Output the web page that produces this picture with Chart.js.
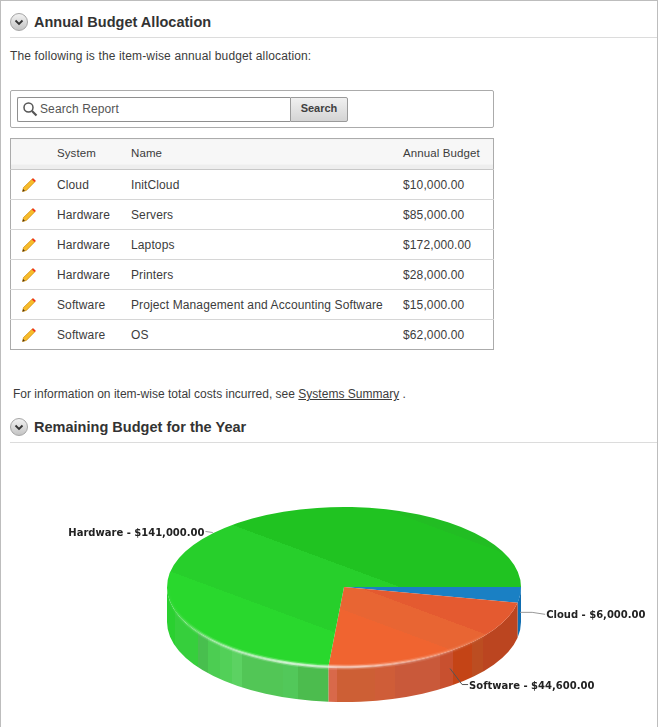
<!DOCTYPE html>
<html>
<head>
<meta charset="utf-8">
<title>Annual Budget Allocation</title>
<script src="https://cdn.jsdelivr.net/npm/chart.js@4"></script>
<style>
html, body { margin: 0; padding: 0; background: #fff; }
body { width: 658px; height: 727px; position: relative; overflow: hidden; font-family: "Liberation Sans", Arial, sans-serif; font-size: 12px; color: #3c3c3c; }
.frame { position: absolute; left: 0; top: 0; width: 656px; height: 727px; border: 1px solid #bdbdbd; border-bottom: 0; }
.abs { position: absolute; white-space: nowrap; }
h2 { position: absolute; margin: 0; left: 34px; font-size: 14.5px; line-height: 18px; font-weight: bold; color: #333; letter-spacing: 0.02px; white-space: nowrap; }
.rule { position: absolute; left: 10px; right: 1px; height: 1px; background: #dcdcdc; }
.toggle { position: absolute; left: 10px; width: 16px; height: 16px; border: 1px solid #a5a5a5; border-radius: 50%; background: linear-gradient(#f2f2f2, #c4c4c4); }
.para { letter-spacing: 0.14px; line-height: 14px; }
.para a { color: #3c3c3c; text-decoration: underline; }
.searchbar { position: absolute; left: 10px; top: 90px; width: 482px; height: 36px; border: 1px solid #ababab; border-radius: 2px; }
.input { position: absolute; left: 17px; top: 97px; width: 272px; height: 23px; border: 1px solid #8f8f8f; border-right: 0; border-radius: 2px 0 0 2px; }
.input span { position: absolute; left: 22px; top: 4px; color: #555; letter-spacing: 0.12px; line-height: 14px; }
.button { position: absolute; left: 290px; top: 97px; width: 56px; height: 23px; border: 1px solid #9a9a9a; border-radius: 0 2px 2px 0; background: linear-gradient(#f0f0f0, #d4d4d4); font-weight: bold; font-size: 11px; color: #404040; text-align: center; line-height: 21px; }
table { position: absolute; left: 10px; top: 138px; width: 484px; border-collapse: collapse; table-layout: fixed; border: 1px solid #ababab; }
th { height: 31px; padding: 0 0 3px 0; box-sizing: border-box; font-weight: normal; font-size: 11.5px; text-align: left; letter-spacing: 0.1px; background: linear-gradient(#f7f7f7 0, #f7f7f7 82%, #eeeeee 82%, #eeeeee 100%); border-bottom: 1px solid #c8c8c8; }
td { height: 30px; padding: 0; box-sizing: border-box; font-size: 12px; letter-spacing: 0.12px; border-top: 1px solid #d6d6d6; white-space: nowrap; }
tbody tr:first-child td { border-top: 0; }
td svg { display: block; margin-left: 10px; }
canvas { position: absolute; left: 0; top: 445px; }
</style>
</head>
<body>
<div class="frame"></div>

<div class="toggle" style="top:13px"><svg width="16" height="16"><path d="M4.5 6.5 L8 10 L11.5 6.5" fill="none" stroke="#333" stroke-width="1.8"/></svg></div>
<h2 style="top:13px">Annual Budget Allocation</h2>
<div class="rule" style="top:37px"></div>
<div class="abs para" style="left:10px;top:49px">The following is the item-wise annual budget allocation:</div>

<div class="searchbar"></div>
<div class="input">
  <svg style="position:absolute;left:4px;top:3px" width="16" height="16"><circle cx="6.5" cy="6.5" r="4.5" fill="none" stroke="#555" stroke-width="1.5"/><path d="M10 10 L14.5 14.5" stroke="#555" stroke-width="2.2"/></svg>
  <span>Search Report</span>
</div>
<div class="button">Search</div>

<table>
  <colgroup><col style="width:46.5px"><col style="width:74px"><col style="width:272px"><col></colgroup>
  <thead><tr id="headRow"></tr></thead>
  <tbody id="rows"></tbody>
</table>

<div class="abs para" style="left:13px;top:387px;letter-spacing:0.01px">For information on item-wise total costs incurred, see <a>Systems Summary</a> .</div>

<div class="toggle" style="top:418px"><svg width="16" height="16"><path d="M4.5 6.5 L8 10 L11.5 6.5" fill="none" stroke="#333" stroke-width="1.8"/></svg></div>
<h2 style="top:418px">Remaining Budget for the Year</h2>
<div class="rule" style="top:442px"></div>

<canvas id="budgetChart" width="658" height="282"></canvas>

<script>
// 表格数据
const tableHeaders = ['', 'System', 'Name', 'Annual Budget'];
const tableSystems = ['Cloud', 'Hardware', 'Hardware', 'Hardware', 'Software', 'Software'];
const tableNames = ['InitCloud', 'Servers', 'Laptops', 'Printers', 'Project Management and Accounting Software', 'OS'];
const tableBudgets = [10000, 85000, 172000, 28000, 15000, 62000];

// 饼图数据
const categories = ['Cloud', 'Software', 'Hardware'];
const remaining = [6000, 44600, 141000];

const money = v => '$' + v.toLocaleString('en-US', { minimumFractionDigits: 2, maximumFractionDigits: 2 });

const pencil = `<svg width="16" height="16" viewBox="0 0 16 16">
  <path d="M1.5 14.5 L2.5 10.5 L11.5 1.8 L14.2 4.4 L5.4 13.4 Z" fill="#f7bc2a" stroke="#cf8a10" stroke-width="0.7"/>
  <path d="M10.8 2.5 L13.5 5.1 L14.8 3.8 L12.2 1.2 Z" fill="#f0341c"/>
  <path d="M1.5 14.5 L2.1 12 L4 13.9 Z" fill="#4a3413"/>
</svg>`;

function renderTable() {
    document.getElementById('headRow').innerHTML = tableHeaders.map(h => `<th>${h}</th>`).join('');
    document.getElementById('rows').innerHTML = tableNames.map((name, i) =>
        `<tr><td>${pencil}</td><td>${tableSystems[i]}</td><td>${name}</td><td>${money(tableBudgets[i])}</td></tr>`
    ).join('');
}

// 3D效果参数
const FLATTEN = 0.452;
const DEPTH = 35;

// 顶面色带 (沿法线方向的位置, 颜色)
const topBands = {
    Cloud: [[0, '#1a80c4']],
    Software: [[0, '#f06430'], [0.388, '#e86533'], [0.525, '#e45a30']],
    Hardware: [[0, '#29d82d'], [0.264, '#27cf2b'], [0.60, '#20c321'], [0.95, '#22bd23']]
};

// 侧面色带 (沿x方向, 0为左端 1为右端)
const wallBands = {
    Cloud: [[0, '#0f6db0']],
    Software: [[0, '#d8694a'], [0.48, '#cd5f35'], [0.588, '#cf5d38'], [0.644, '#c9593a'], [0.77, '#c8502f'], [0.808, '#c44416'], [0.862, '#bc4d21'], [0.893, '#bb4520']],
    Hardware: [[0, '#2ad030'], [0.023, '#36cf3c'], [0.088, '#48bf4e'], [0.116, '#4ccd52'], [0.15, '#52d058'], [0.184, '#5cd262'], [0.212, '#52c656'], [0.328, '#52c85a'], [0.37, '#4cbc4e']]
};

// 引线的折点和终点, 相对于锚点
const leaders = {
    Cloud: { elbow: [12, 0], end: [25, 2], align: 'left' },
    Software: { elbow: [12, 16], end: [18, 16], align: 'left' },
    Hardware: { elbow: [-12, -13], end: [-19, -14], align: 'right' }
};

function steppedGradient(ctx, x0, y0, x1, y1, bands) {
    const g = ctx.createLinearGradient(x0, y0, x1, y1);
    bands.forEach((band, i) => {
        g.addColorStop(band[0], band[1]);
        const next = bands[i + 1];
        g.addColorStop(next ? next[0] : 1, band[1]);
    });
    return g;
}

function topColor(context) {
    const chart = context.chart;
    const name = categories[context.dataIndex];
    if (!chart.chartArea) return topBands[name][0][1];
    const cx = (chart.chartArea.left + chart.chartArea.right) / 2;
    const cy = (chart.chartArea.top + chart.chartArea.bottom) / 2;
    const r = 177;
    return steppedGradient(chart.ctx, cx - 0.634 * r, cy + 0.773 * r, cx + 0.634 * r, cy - 0.773 * r, topBands[name]);
}

// 饼块在锚点处的屏幕坐标 (取侧面中线)
function anchorOf(arc) {
    const mid = (arc.startAngle + arc.endAngle) / 2;
    return [arc.x + arc.outerRadius * Math.cos(mid), arc.y + arc.outerRadius * FLATTEN * Math.sin(mid) + DEPTH / 2];
}

function drawLeader(ctx, arc, name) {
    const a = anchorOf(arc);
    const l = leaders[name];
    ctx.beginPath();
    ctx.moveTo(a[0], a[1]);
    ctx.lineTo(a[0] + l.elbow[0], a[1] + l.elbow[1]);
    ctx.lineTo(a[0] + l.end[0], a[1] + l.end[1]);
    ctx.strokeStyle = name === 'Software' ? '#555' : '#999';
    ctx.lineWidth = 1;
    ctx.stroke();
}

function drawLabel(ctx, arc, name, value) {
    const a = anchorOf(arc);
    const l = leaders[name];
    const side = l.align === 'left' ? 1 : -1;
    ctx.font = 'bold 10px "DejaVu Sans"';
    ctx.fillStyle = '#222';
    ctx.textAlign = l.align;
    ctx.textBaseline = 'middle';
    ctx.fillText(`${name} - ${money(value)}`, a[0] + l.end[0] + side, a[1] + l.end[1] + 1.5);
}

function drawWall(ctx, arc, name) {
    const from = Math.max(arc.startAngle, 0);
    const to = Math.min(arc.endAngle, Math.PI);
    if (to <= from) return;
    const rx = arc.outerRadius;
    const ry = rx * FLATTEN;
    ctx.beginPath();
    ctx.ellipse(arc.x, arc.y, rx, ry, 0, from, to);
    ctx.ellipse(arc.x, arc.y + DEPTH, rx, ry, 0, to, from, true);
    ctx.closePath();
    ctx.fillStyle = steppedGradient(ctx, arc.x - rx, 0, arc.x + rx, 0, wallBands[name]);
    ctx.fill();
}

// 前缘高光, 外宽内窄两层
function drawRim(ctx, arc) {
    const rx = arc.outerRadius;
    const g = ctx.createLinearGradient(arc.x - rx, 0, arc.x + rx, 0);
    g.addColorStop(0, 'rgba(255,255,255,0)');
    g.addColorStop(0.1, 'rgba(255,255,255,0.25)');
    g.addColorStop(0.35, 'rgba(255,255,255,0.6)');
    g.addColorStop(0.5, 'rgba(255,255,255,0.5)');
    g.addColorStop(0.72, 'rgba(255,255,255,0.25)');
    g.addColorStop(0.92, 'rgba(255,255,255,0)');
    ctx.strokeStyle = g;
    [[5, 0.35], [2.5, 1]].forEach(([width, alpha]) => {
        ctx.beginPath();
        ctx.ellipse(arc.x, arc.y, rx - 0.5, rx * FLATTEN, 0, 0.3, Math.PI - 0.02);
        ctx.globalAlpha = alpha;
        ctx.lineWidth = width;
        ctx.stroke();
    });
    ctx.globalAlpha = 1;
}

// 把Chart.js的圆饼压扁, 并补上侧面
const pie3d = {
    id: 'pie3d',
    beforeDatasetsDraw(chart) {
        const ctx = chart.ctx;
        const arcs = chart.getDatasetMeta(0).data;
        arcs.forEach((arc, i) => drawWall(ctx, arc, categories[i]));
        arcs.forEach((arc, i) => { if (categories[i] === 'Hardware') drawLeader(ctx, arc, categories[i]); });
        ctx.save();
        ctx.translate(arcs[0].x, arcs[0].y);
        ctx.scale(1, FLATTEN);
        ctx.translate(-arcs[0].x, -arcs[0].y);
    },
    afterDatasetsDraw(chart) {
        const ctx = chart.ctx;
        ctx.restore();
        const arcs = chart.getDatasetMeta(0).data;
        drawRim(ctx, arcs[0]);
        arcs.forEach((arc, i) => {
            if (categories[i] !== 'Hardware') drawLeader(ctx, arc, categories[i]);
            drawLabel(ctx, arc, categories[i], remaining[i]);
        });
    }
};

function renderChart() {
    new Chart(document.getElementById('budgetChart'), {
        type: 'pie',
        data: {
            labels: categories,
            datasets: [{
                data: remaining,
                backgroundColor: topColor,
                borderWidth: 0,
                radius: 177
            }]
        },
        options: {
            responsive: false,
            animation: false,
            rotation: 90,
            layout: { padding: { left: 30, top: 2 } },
            plugins: {
                legend: { display: false },
                tooltip: { enabled: false }
            }
        },
        plugins: [pie3d]
    });
}

renderTable();
renderChart();
</script>
</body>
</html>
